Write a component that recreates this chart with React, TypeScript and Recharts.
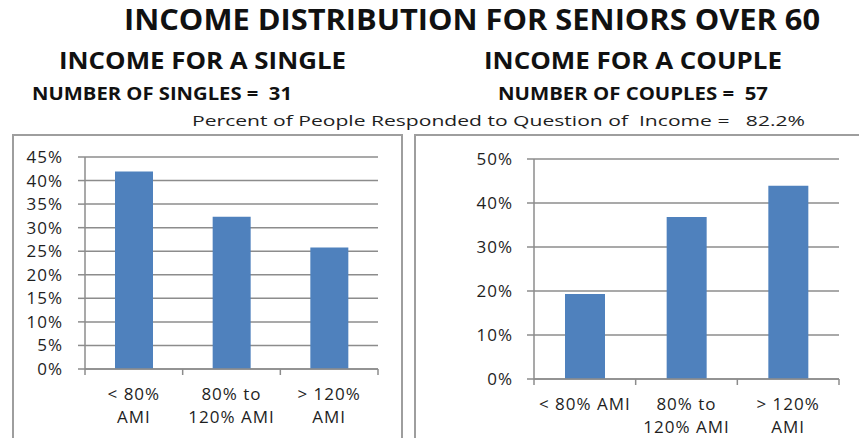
import React from 'react'
import { BarChart, Bar, XAxis, YAxis, CartesianGrid } from 'recharts'

// data
const categories = ['< 80% AMI', '80% to 120% AMI', '> 120% AMI']
const singlesPct = [41.9, 32.3, 25.8]
const couplesPct = [19.3, 36.8, 43.9]
const singlesTicks = [0, 5, 10, 15, 20, 25, 30, 35, 40, 45]
const couplesTicks = [0, 10, 20, 30, 40, 50]
const singlesLabelLines = [['< 80%', 'AMI'], ['80% to', '120% AMI'], ['> 120%', 'AMI']]
const couplesLabelLines = [['< 80% AMI'], ['80% to', '120% AMI'], ['> 120%', 'AMI']]

const title = 'INCOME DISTRIBUTION FOR SENIORS OVER 60'
const singleHeading = 'INCOME FOR A SINGLE'
const coupleHeading = 'INCOME FOR A COUPLE'
const singlesCount = 'NUMBER OF SINGLES =  31'
const couplesCount = 'NUMBER OF COUPLES =  57'
const responseLine = 'Percent of People Responded to Question of  Income =   82.2%'

const BAR = '#4F81BD'
const GRID = '#8c8c8c'
const INK = '#1e1e1e'
const FONT = '"Open Sans", Calibri, sans-serif'

const singlesData = categories.map((name, i) => ({ name, value: singlesPct[i] }))
const couplesData = categories.map((name, i) => ({ name, value: couplesPct[i] }))

function CategoryTick(props: any) {
  const { x, y, payload, index, lines, band, count } = props
  const half = payload && payload.offset ? payload.offset : band / 2
  const rows: string[] = lines[index] || [payload.value]
  return (
    <g>
      <line x1={x - half} y1={y} x2={x - half} y2={y + 6} stroke={GRID} strokeWidth={1.5} />
      {index === count - 1 && (
        <line x1={x + half} y1={y} x2={x + half} y2={y + 6} stroke={GRID} strokeWidth={1.5} />
      )}
      {rows.map((r, i) => (
        <text
          key={i}
          x={x}
          y={y + 31 + i * 23}
          textAnchor='middle'
          fill={INK}
          fontSize={17}
          letterSpacing={1}
          fontFamily={FONT}
        >
          {r}
        </text>
      ))}
    </g>
  )
}

interface ChartProps {
  data: { name: string; value: number }[]
  ticks: number[]
  lines: string[][]
  left: number
  width: number
  margin: { top: number; right: number; left: number; bottom: number }
  yWidth: number
  xHeight: number
  barSize: number
  labelGap: number
}

function IncomeChart({ data, ticks, lines, left, width, margin, yWidth, xHeight, barSize, labelGap }: ChartProps) {
  const plotWidth = width - margin.left - margin.right - yWidth
  return (
    <div style={{ position: 'absolute', left, top: 137 }}>
      <BarChart width={width} height={301} data={data} margin={margin}>
        <CartesianGrid vertical={false} stroke={GRID} strokeWidth={1.5} />
        <XAxis
          dataKey='name'
          height={xHeight}
          axisLine={{ stroke: GRID, strokeWidth: 1.5 }}
          tickLine={false}
          tickSize={0}
          tickMargin={0}
          interval={0}
          tick={<CategoryTick lines={lines} band={plotWidth / data.length} count={data.length} />}
        />
        <YAxis
          width={yWidth}
          domain={[ticks[0], ticks[ticks.length - 1]]}
          ticks={ticks}
          interval={0}
          axisLine={{ stroke: GRID, strokeWidth: 1.5 }}
          tickLine={{ stroke: GRID, strokeWidth: 1.5 }}
          tickSize={7}
          tickMargin={labelGap}
          tickFormatter={(v) => `${v}%`}
          tick={{ fill: INK, fontSize: 17, fontFamily: FONT, letterSpacing: 1 }}
        />
        <Bar dataKey='value' fill={BAR} barSize={barSize} isAnimationActive={false} />
      </BarChart>
    </div>
  )
}

function Heading({ text, x, y, len, size, bold = true }: { text: string; x: number; y: number; len: number; size: number; bold?: boolean }) {
  return (
    <text
      x={x}
      y={y}
      textLength={len}
      lengthAdjust='spacingAndGlyphs'
      fontSize={size}
      fontWeight={bold ? 700 : 400}
      fontFamily={FONT}
      fill={bold ? '#111' : INK}
      style={{ whiteSpace: 'pre' }}
    >
      {text}
    </text>
  )
}

export default function App() {
  return (
    <div
      style={{
        position: 'absolute',
        left: 0,
        top: 0,
        width: 859,
        height: 438,
        overflow: 'hidden',
        background: '#fff',
        fontFamily: FONT,
      }}
    >
      <svg width={859} height={135} style={{ position: 'absolute', left: 0, top: 0 }}>
        <Heading text={title} x={124} y={30} len={696} size={28} />
        <Heading text={singleHeading} x={59} y={69} len={287} size={23} />
        <Heading text={coupleHeading} x={484} y={69} len={298} size={23} />
        <Heading text={singlesCount} x={32} y={100} len={260} size={18} />
        <Heading text={couplesCount} x={498} y={100} len={270} size={18} />
        <Heading text={responseLine} x={192} y={126} len={613} size={15} bold={false} />
      </svg>

      <div
        style={{
          position: 'absolute',
          left: 12,
          top: 134,
          width: 391,
          height: 330,
          border: '2px solid #9e9e9e',
          boxSizing: 'border-box',
        }}
      />
      <div
        style={{
          position: 'absolute',
          left: 414,
          top: 134,
          width: 470,
          height: 330,
          border: '2px solid #9e9e9e',
          boxSizing: 'border-box',
        }}
      />

      <IncomeChart
        data={singlesData}
        ticks={singlesTicks}
        lines={singlesLabelLines}
        left={13}
        width={395}
        margin={{ top: 20, right: 30, left: 0, bottom: 0 }}
        yWidth={72}
        xHeight={69}
        barSize={38}
        labelGap={15}
      />
      <IncomeChart
        data={couplesData}
        ticks={couplesTicks}
        lines={couplesLabelLines}
        left={416}
        width={443}
        margin={{ top: 22, right: 20, left: 0, bottom: 0 }}
        yWidth={118}
        xHeight={59}
        barSize={40}
        labelGap={14}
      />
    </div>
  )
}
